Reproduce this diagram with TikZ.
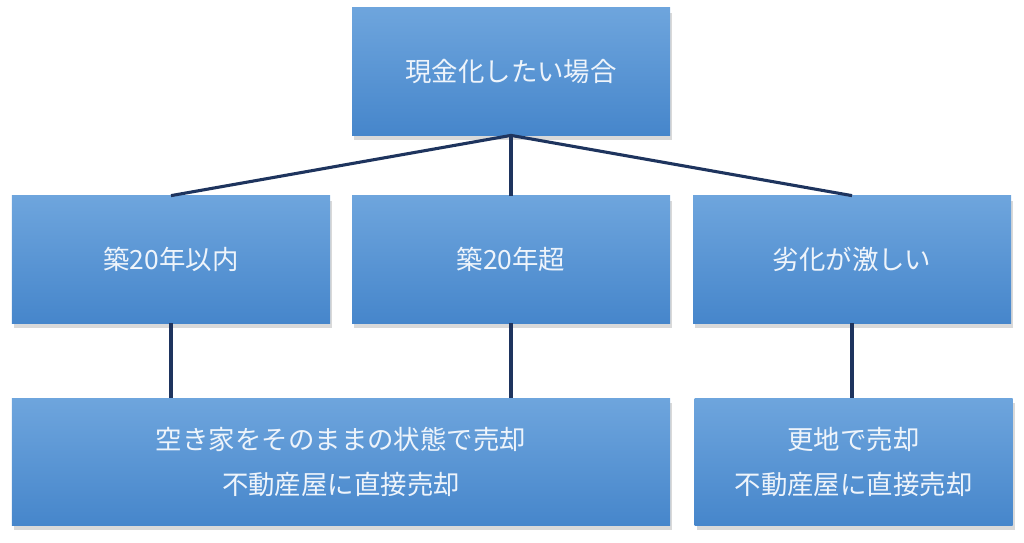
\documentclass[tikz,border=0pt]{standalone}
\usepackage{fontspec}
\setmainfont{Noto Sans CJK JP}
\usepackage{xcolor}
\usepackage{tikz}
\usetikzlibrary{shadows}
\definecolor{boxtop}{RGB}{110,165,221}
\definecolor{boxbot}{RGB}{70,134,203}
\definecolor{boxtxt}{RGB}{238,244,251}
\definecolor{wire}{RGB}{30,52,94}

\begin{document}
\begin{tikzpicture}[
  x=0.25mm, y=-0.25mm,
  blk/.style={rectangle, top color=boxtop, bottom color=boxbot,
    minimum height=3.18cm, minimum width=7.95cm, inner sep=0pt,
    text=boxtxt, align=center, font=\fontsize{18.8}{32}\selectfont,
    drop shadow={opacity=0.3, shadow xshift=0.6mm, shadow yshift=-1.2mm}},
  wide/.style={blk, minimum width=16.45cm},
  wire/.style={draw=wire, line width=2.2pt}
]

\useasboundingbox (0,0) rectangle (1024,542);

\node [blk] (top) at (511,71.5) {現金化したい場合};

\node [blk] (within) at (171,259.5) {築20年以内};
\node [blk] (over) at (511,259.5) {築20年超};
\node [blk] (worn) at (852,259.5) {劣化が激しい};

\node [wide] (asis) at (341,462) {空き家をそのままの状態で売却\\不動産屋に直接売却};
\node [blk] (vacant) at (853.5,462) {更地で売却\\不動産屋に直接売却};

\draw [wire] (within.north) -- (top.south) -- (worn.north);
\draw [wire] (top.south) -- (over.north);

\draw [wire] (within.south) -- (within.south |- asis.north);
\draw [wire] (over.south) -- (over.south |- asis.north);
\draw [wire] (worn.south) -- (worn.south |- vacant.north);

\end{tikzpicture}
\end{document}
